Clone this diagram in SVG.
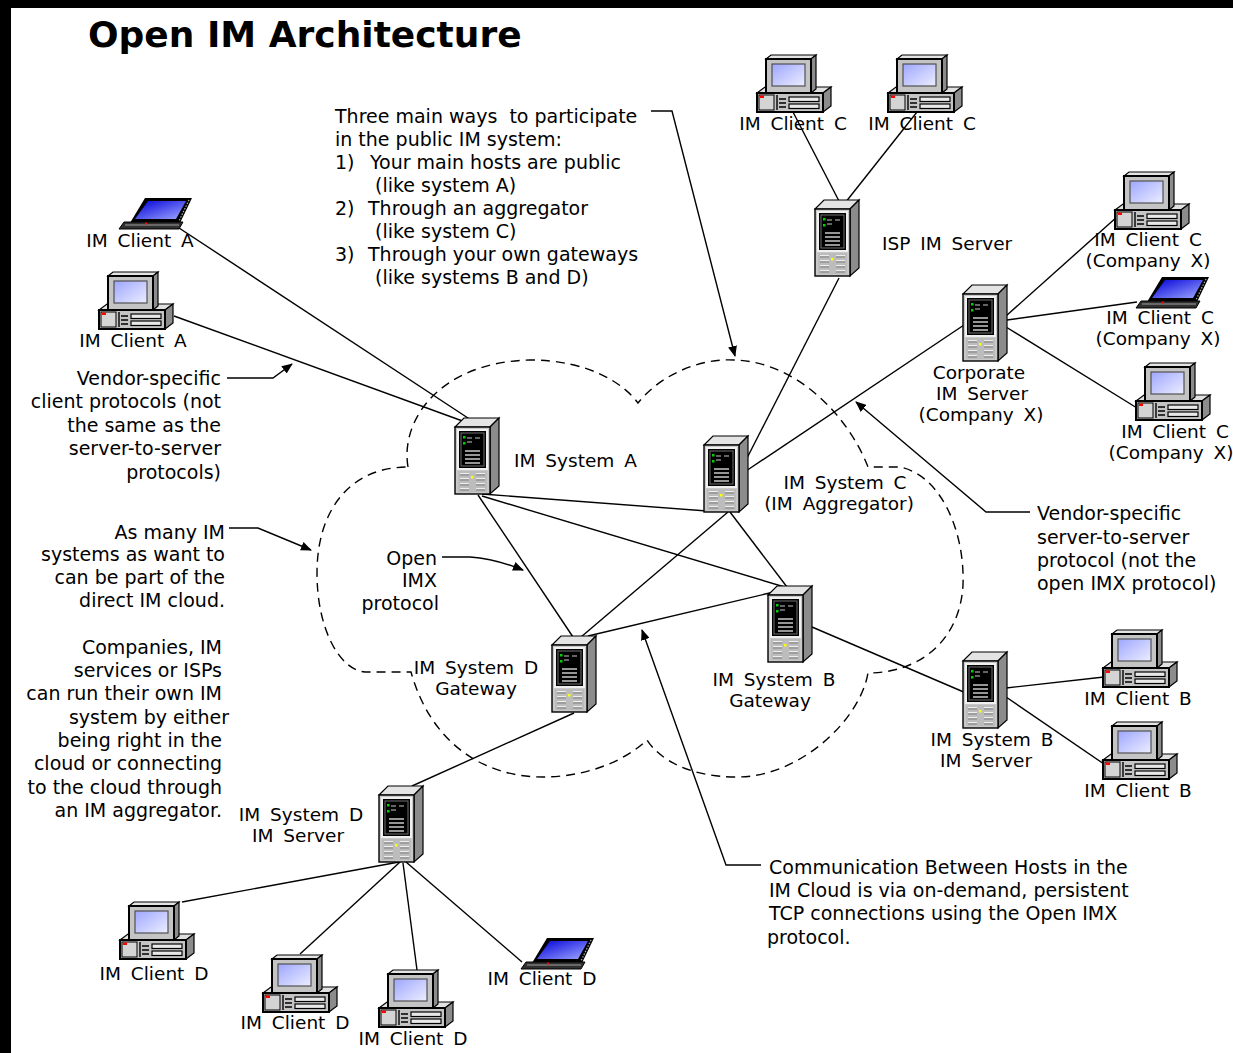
<svg xmlns="http://www.w3.org/2000/svg" xmlns:xlink="http://www.w3.org/1999/xlink" width="1233" height="1053" viewBox="0 0 1233 1053">
<style>
text{font-family:"DejaVu Sans","Liberation Sans",sans-serif;font-size:19px;fill:#000}
.title{font-size:36px;font-weight:bold}
.lbl{text-anchor:middle;word-spacing:4px;font-size:18.5px}
.r{text-anchor:end}
.ln{stroke:#000;stroke-width:1.4;fill:none}
.ld{stroke:#000;stroke-width:1.4;fill:none;marker-end:url(#ah)}
.cloud{stroke:#000;stroke-width:1.4;fill:none;stroke-dasharray:9 6}
</style>
<defs>
<marker id="ah" markerUnits="userSpaceOnUse" markerWidth="11" markerHeight="9" refX="10" refY="4.5" orient="auto">
<path d="M0,0 L11,4.5 L0,9 z" fill="#000"/>
</marker>
<linearGradient id="scr" x1="0" y1="0" x2="1" y2="1">
<stop offset="0" stop-color="#9ea6ff"/><stop offset="1" stop-color="#eceeff"/>
</linearGradient>
<linearGradient id="lap" x1="0" y1="0" x2="1" y2="1">
<stop offset="0" stop-color="#0000d8"/><stop offset="1" stop-color="#a0a8ff"/>
</linearGradient>
<g id="server">
<polygon points="0,9 9,0 44,0 35,9" fill="#e4e4e4" stroke="#000" stroke-width="1.2"/>
<polygon points="35,9 44,0 44,68 35,76" fill="#8c8c8c" stroke="#000" stroke-width="1.2"/>
<rect x="0" y="9" width="35" height="67" fill="#c8c8c8" stroke="#000" stroke-width="1.4"/>
<rect x="2" y="11" width="31" height="41" fill="#f0f0f0"/>
<rect x="4" y="13" width="27" height="37" fill="#000"/>
<rect x="6" y="15" width="23" height="33" fill="none" stroke="#707070" stroke-width="1"/>
<rect x="8" y="18" width="2.5" height="2.5" fill="#00d000"/>
<rect x="8" y="24" width="2.5" height="2.5" fill="#00d000"/>
<path d="M12 20 h5 M20 20 h5 M12 24 h5" stroke="#c8c8c8" stroke-width="1.2"/>
<path d="M10 33 h15 M10 37 h15 M10 41 h15 M10 45 h15" stroke="#c8c8c8" stroke-width="1.6"/>
<rect x="3" y="53" width="29" height="21" fill="#bcbcbc"/>
<path d="M5 57 h9 M21 57 h9 M5 62 h9 M21 62 h9 M5 67 h9 M21 67 h9 M5 72 h9 M21 72 h9" stroke="#808080" stroke-width="1.2"/>
<path d="M5 55.5 h9 M21 55.5 h9 M5 60.5 h9 M21 60.5 h9 M5 65.5 h9 M21 65.5 h9 M5 70.5 h9 M21 70.5 h9" stroke="#eeeeee" stroke-width="1"/>
<rect x="16" y="58" width="2.5" height="2.5" fill="#ffff00"/>
</g>
<g id="desktop">
<polygon points="0,38 8,32 74,32 66,38" fill="#e0e0e0" stroke="#000" stroke-width="1.2"/>
<polygon points="66,38 74,32 74,51 66,57" fill="#8c8c8c" stroke="#000" stroke-width="1.2"/>
<polygon points="9,4 14,0 59,0 54,4" fill="#e4e4e4" stroke="#000" stroke-width="1.2"/>
<polygon points="54,4 59,0 59,34 54,38" fill="#8c8c8c" stroke="#000" stroke-width="1.2"/>
<rect x="9" y="4" width="45" height="34" fill="#c4c4c4" stroke="#000" stroke-width="2"/>
<rect x="15" y="9" width="33" height="22" fill="url(#scr)" stroke="#505050" stroke-width="1.2"/>
<rect x="0" y="38" width="66" height="19" fill="#c4c4c4" stroke="#000" stroke-width="2"/>
<rect x="2" y="40" width="15" height="15" fill="#d4d4d4" stroke="#000" stroke-width="1"/>
<rect x="3" y="40.5" width="4" height="2.5" fill="#ff0000"/>
<path d="M20 40 v15 M22 44 h7 M22 48 h7 M22 52 h7" stroke="#000" stroke-width="1.4"/>
<rect x="32" y="42" width="30" height="4.5" fill="#e8e8e8" stroke="#000" stroke-width="1.2"/>
<rect x="32" y="49" width="30" height="4.5" fill="#e8e8e8" stroke="#000" stroke-width="1.2"/>
</g>
<g id="laptop">
<polygon points="26,0 73,0 61,25 11,25" fill="#000"/>
<polygon points="29,3 67,3 57,21 16,21" fill="url(#lap)"/>
<path d="M70 2 L60 23" stroke="#b0b0b0" stroke-width="1.2" stroke-dasharray="1.5 1.5"/>
<polygon points="5,24 64,24 60,31 0,31" fill="#303030" stroke="#000" stroke-width="1"/>
<path d="M6 27 h54" stroke="#a0a0a0" stroke-width="1"/>
<rect x="26" y="24.5" width="2" height="2" fill="#ff0000"/>
</g>
</defs>

<rect x="0" y="0" width="1233" height="1053" fill="#fff"/>
<rect x="0" y="0" width="1233" height="8" fill="#000"/>
<rect x="0" y="0" width="11" height="1053" fill="#000"/>

<text class="title" x="88" y="47">Open IM Architecture</text>

<g id="cloud">
<path class="cloud" d="M408 467 C400 420 440 362 530 360 C590 360 625 385 638 403 C660 375 700 358 734 360 C800 362 850 420 868 467 L900 467 C940 475 965 530 963 585 C960 640 920 673 868 673 C860 720 800 777 737 777 C690 777 660 760 647 740 C620 765 580 777 543 777 C480 777 430 740 411 672 L365 672 C340 670 317 630 317 573 C317 510 350 467 408 467 Z"/>
</g>

<g id="connectors">
<path class="ln" d="M176 226 L471 420"/>
<path class="ln" d="M174 316 L468 423"/>
<path class="ln" d="M482 494 L707 511"/>
<path class="ln" d="M482 496 L788 588"/>
<path class="ln" d="M478 495 L573 637"/>
<path class="ln" d="M728 512 L581 637"/>
<path class="ln" d="M730 512 L787 587"/>
<path class="ln" d="M588 636 L774 592"/>
<path class="ln" d="M574 713 L412 786"/>
<path class="ln" d="M839 278 L745 462"/>
<path class="ln" d="M964 325 L746 471"/>
<path class="ln" d="M793 112 L840 203"/>
<path class="ln" d="M917 112 L845 203"/>
<path class="ln" d="M1006 316 L1118 216"/>
<path class="ln" d="M1007 320 L1137 302"/>
<path class="ln" d="M1006 327 L1137 408"/>
<path class="ln" d="M812 627 L966 693"/>
<path class="ln" d="M1006 688 L1104 677"/>
<path class="ln" d="M1006 697 L1104 764"/>
<path class="ln" d="M399 862 L182 902"/>
<path class="ln" d="M400 862 L300 954"/>
<path class="ln" d="M403 863 L417 970"/>
<path class="ln" d="M406 862 L522 962"/>
<path class="ld" d="M651 111 H672 L735 356"/>
<path class="ld" d="M227 378 H273 L292 364"/>
<path class="ld" d="M229 528 H258 L311 550"/>
<path class="ld" d="M442 557 H470 Q496 559 523 570"/>
<path class="ld" d="M761 865 H726 L642 630"/>
<path class="ld" d="M1030 512 H986 L856 402"/>
</g>

<g id="note-ways">
<text x="335" y="123">Three main ways&#160; to participate</text>
<text x="335" y="146">in the public IM system:</text>
<text x="335" y="169">1)<tspan x="370">Your main hosts are public</tspan></text>
<text x="375" y="192">(like system A)</text>
<text x="335" y="215">2)<tspan x="368">Through an aggregator</tspan></text>
<text x="375" y="238">(like system C)</text>
<text x="335" y="261">3)<tspan x="368">Through your own gateways</tspan></text>
<text x="375" y="284">(like systems B and D)</text>
</g>
<g id="note-client-protocols">
<text class="r" x="221" y="385">Vendor-specific</text>
<text class="r" x="221" y="408">client protocols (not</text>
<text class="r" x="221" y="432">the same as the</text>
<text class="r" x="221" y="455">server-to-server</text>
<text class="r" x="221" y="479">protocols)</text>
</g>
<g id="note-many">
<text class="r" x="225" y="539">As many IM</text>
<text class="r" x="225" y="561">systems as want to</text>
<text class="r" x="225" y="584">can be part of the</text>
<text class="r" x="225" y="607">direct IM cloud.</text>
</g>
<g id="note-companies">
<text class="r" x="222" y="654">Companies, IM</text>
<text class="r" x="222" y="677">services or ISPs</text>
<text class="r" x="222" y="700">can run their own IM</text>
<text class="r" x="229" y="724">system by either</text>
<text class="r" x="222" y="747">being right in the</text>
<text class="r" x="222" y="770">cloud or connecting</text>
<text class="r" x="222" y="794">to the cloud through</text>
<text class="r" x="222" y="817">an IM aggregator.</text>
</g>
<g id="note-imx">
<text class="r" x="437" y="565">Open</text>
<text class="r" x="437" y="587">IMX</text>
<text class="r" x="439" y="610">protocol</text>
</g>
<g id="note-communication">
<text x="769" y="874">Communication Between Hosts in the</text>
<text x="769" y="897">IM Cloud is via on-demand, persistent</text>
<text x="769" y="920">TCP connections using the Open IMX</text>
<text x="767" y="944">protocol.</text>
</g>
<g id="note-server-protocol">
<text x="1037" y="520">Vendor-specific</text>
<text x="1037" y="544">server-to-server</text>
<text x="1037" y="567">protocol (not the</text>
<text x="1037" y="590">open IMX protocol)</text>
</g>

<g id="client-c1"><use xlink:href="#desktop" x="757" y="55"/><text class="lbl" x="793" y="130">IM Client C</text></g>
<g id="client-c2"><use xlink:href="#desktop" x="888" y="55"/><text class="lbl" x="922" y="130">IM Client C</text></g>
<g id="isp-server"><use xlink:href="#server" x="815" y="200"/><text x="882" y="250" style="word-spacing:4px;font-size:18.5px">ISP IM Server</text></g>
<g id="client-cx1"><use xlink:href="#desktop" x="1115" y="172"/><text class="lbl" x="1148" y="246">IM Client C</text><text class="lbl" x="1148" y="267">(Company X)</text></g>
<g id="client-cx2"><use xlink:href="#laptop" x="1136" y="277"/><text class="lbl" x="1160" y="324">IM Client C</text><text class="lbl" x="1158" y="345">(Company X)</text></g>
<g id="client-cx3"><use xlink:href="#desktop" x="1136" y="363"/><text class="lbl" x="1175" y="438">IM Client C</text><text class="lbl" x="1171" y="459">(Company X)</text></g>
<g id="corporate-server"><use xlink:href="#server" x="963" y="285"/><text class="lbl" x="979" y="379">Corporate</text><text class="lbl" x="982" y="400">IM Server</text><text class="lbl" x="981" y="421">(Company X)</text></g>
<g id="client-a1"><use xlink:href="#laptop" x="119" y="198"/><text class="lbl" x="140" y="247">IM Client A</text></g>
<g id="client-a2"><use xlink:href="#desktop" x="99" y="272"/><text class="lbl" x="133" y="347">IM Client A</text></g>
<g id="system-a"><use xlink:href="#server" x="455" y="418"/><text x="514" y="467" style="word-spacing:4px;font-size:18.5px">IM System A</text></g>
<g id="system-c"><use xlink:href="#server" x="704" y="436"/><text class="lbl" x="845" y="489">IM System C</text><text class="lbl" x="839" y="510">(IM Aggregator)</text></g>
<g id="system-b-gateway"><use xlink:href="#server" x="768" y="586"/><text class="lbl" x="774" y="686">IM System B</text><text class="lbl" x="770" y="707">Gateway</text></g>
<g id="system-d-gateway"><use xlink:href="#server" x="552" y="636"/><text class="lbl" x="476" y="674">IM System D</text><text class="lbl" x="476" y="695">Gateway</text></g>
<g id="system-b-server"><use xlink:href="#server" x="963" y="652"/><text class="lbl" x="992" y="746">IM System B</text><text class="lbl" x="986" y="767">IM Server</text></g>
<g id="client-b1"><use xlink:href="#desktop" x="1103" y="630"/><text class="lbl" x="1138" y="705">IM Client B</text></g>
<g id="client-b2"><use xlink:href="#desktop" x="1103" y="722"/><text class="lbl" x="1138" y="797">IM Client B</text></g>
<g id="system-d-server"><use xlink:href="#server" x="379" y="786"/><text class="lbl" x="301" y="821">IM System D</text><text class="lbl" x="298" y="842">IM Server</text></g>
<g id="client-d1"><use xlink:href="#desktop" x="120" y="902"/><text class="lbl" x="154" y="980">IM Client D</text></g>
<g id="client-d2"><use xlink:href="#desktop" x="263" y="955"/><text class="lbl" x="295" y="1029">IM Client D</text></g>
<g id="client-d3"><use xlink:href="#desktop" x="379" y="970"/><text class="lbl" x="413" y="1045">IM Client D</text></g>
<g id="client-d4"><use xlink:href="#laptop" x="521" y="938"/><text class="lbl" x="542" y="985">IM Client D</text></g>
</svg>
